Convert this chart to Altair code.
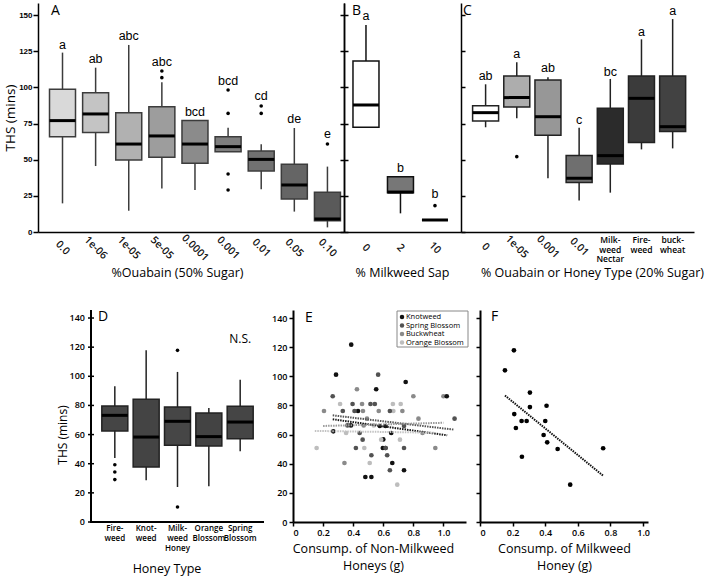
import altair as alt
import pandas as pd

# ---------------- Panel A: THS vs % ouabain (50% sugar) ----------------
a_cats = ["0.0", "1e-06", "1e-05", "5e-05", "0.0001", "0.001", "0.01", "0.05", "0.10"]
a_low = [19.8, 45.6, 14.7, 30.0, 29.0, 55.5, 29.5, 14.1, 3.2]
a_q1 = [65.9, 68.7, 49.8, 51.6, 47.5, 55.5, 42.2, 22.8, 7.8]
a_med = [77.0, 81.6, 60.8, 66.4, 60.8, 59.0, 50.2, 32.5, 9.0]
a_q3 = [98.6, 96.3, 82.5, 86.6, 77.0, 65.9, 56.0, 46.8, 27.4]
a_high = [124.0, 113.6, 129.3, 103.5, 77.0, 72.1, 60.6, 71.9, 45.2]
a_sig = ["a", "ab", "abc", "abc", "bcd", "bcd", "cd", "de", "e"]
a_sig_y = [129.3, 119.6, 135.5, 117.7, 83.2, 104.6, 94.0, 77.9, 67.7]
a_out_cat = ["5e-05", "5e-05", "0.001", "0.001", "0.001", "0.001", "0.01", "0.01", "0.10"]
a_out_val = [111.3, 106.7, 98.2, 82.0, 40.1, 29.0, 87.1, 82.0, 60.8]

# ---------------- Panel B: THS vs % milkweed sap ----------------
b_cats = ["0", "2", "10"]
b_low = [72.4, 12.9, 8.3]
b_q1 = [72.4, 27.2, 8.3]
b_med = [87.8, 27.6, 8.3]
b_q3 = [118.2, 38.2, 8.3]
b_high = [143.1, 38.2, 8.3]
b_sig = ["a", "b", "b"]
b_sig_y = [149.3, 44.0, 26.0]
b_out_cat = ["10"]
b_out_val = [18.2]

# ---------------- Panel C: THS vs % ouabain or honey type (20% sugar) ----------------
c_cats = ["0", "1e-05", "0.001", "0.01", "Milkweed Nectar", "Fireweed", "buckwheat"]
c_tick_text = ["0", "1e-05", "0.001", "0.01", "Milk-\nweed\nNectar", "Fire-\nweed", "buck-\nwheat"]
c_low = [72.4, 78.6, 37.1, 21.7, 27.2, 57.1, 57.8]
c_q1 = [76.7, 86.4, 66.8, 34.3, 47.0, 61.8, 69.4]
c_med = [82.5, 92.9, 79.7, 37.1, 52.8, 92.4, 72.8]
c_q3 = [87.3, 107.8, 105.1, 52.8, 85.5, 107.8, 107.8]
c_high = [102.1, 117.3, 106.9, 72.1, 105.8, 133.2, 147.2]
c_sig = ["ab", "a", "ab", "c", "bc", "a", "a"]
c_sig_y = [107.8, 123.0, 113.1, 77.4, 110.8, 138.5, 153.0]
c_out_cat = ["1e-05"]
c_out_val = [52.1]

# ---------------- Panel D: THS by honey type ----------------
d_cats = ["Fireweed", "Knotweed", "Milkweed Honey", "Orange Blossom", "Spring Blossom"]
d_tick_text = ["Fire-\nweed", "Knot-\nweed", "Milk-\nweed\nHoney", "Orange\nBlossom", "Spring\nBlossom"]
d_low = [43.9, 28.6, 24.0, 24.5, 48.5]
d_q1 = [62.5, 37.7, 52.6, 52.2, 57.2]
d_med = [73.2, 58.3, 69.1, 58.6, 68.6]
d_q3 = [79.6, 84.2, 78.9, 74.8, 79.4]
d_high = [93.1, 117.8, 103.0, 78.2, 97.7]
d_out_cat = ["Fireweed", "Fireweed", "Fireweed", "Milkweed Honey", "Milkweed Honey"]
d_out_val = [39.3, 34.3, 29.1, 117.8, 10.3]
d_note = ["N.S."]
d_note_cat = ["Spring Blossom"]
d_note_y = [125.5]

# ---------------- Panel E: THS vs consumption of non-milkweed honeys ----------------
e_groups = ["Knotweed", "Spring Blossom", "Buckwheat", "Orange Blossom"]
e_knot_x = [0.387, 0.286, 0.749, 0.553, 1.022, 0.432, 0.385, 0.577, 0.615, 0.268,
            0.653, 0.600, 0.597, 0.615, 0.660, 0.738, 0.481, 0.521]
e_knot_y = [121.7, 101.1, 96.1, 91.1, 86.3, 76.2, 66.3, 65.9, 65.9, 62.2,
            61.1, 56.7, 50.8, 50.8, 40.5, 35.5, 30.9, 30.9]
e_spring_x = [0.566, 0.264, 0.396, 0.515, 0.544, 0.331, 0.409, 0.644, 1.074, 0.362,
              0.443, 0.463, 0.418, 0.615, 0.738, 0.521, 0.626, 0.644, 0.738]
e_spring_y = [101.1, 86.3, 81.0, 81.0, 81.0, 76.2, 76.2, 76.2, 70.9, 66.3,
              61.1, 56.5, 50.8, 50.8, 50.8, 45.8, 45.8, 35.5, 65.9]
e_buck_x = [0.425, 0.800, 1.000, 0.459, 0.206, 0.465, 0.570, 0.727, 0.834, 0.492,
            0.470, 0.861, 0.946, 0.342]
e_buck_y = [91.1, 86.3, 86.3, 81.0, 76.2, 76.2, 76.2, 76.2, 70.9, 70.9,
            66.3, 61.1, 50.8, 40.5]
e_orange_x = [0.313, 0.664, 0.716, 0.667, 0.537, 0.353, 0.586, 0.711, 0.157, 0.474,
              0.510, 0.693]
e_orange_y = [81.0, 81.0, 81.0, 76.2, 66.3, 61.1, 56.5, 56.5, 50.8, 50.8,
              40.5, 25.6]
# fitted trend lines (start / end) per honey
e_fit_group = ["Knotweed", "Knotweed", "Spring Blossom", "Spring Blossom",
               "Buckwheat", "Buckwheat", "Orange Blossom", "Orange Blossom"]
e_fit_x = [0.264, 1.025, 0.264, 1.070, 0.200, 1.000, 0.145, 0.940]
e_fit_y = [70.5, 59.5, 73.2, 63.4, 65.9, 68.1, 62.5, 61.3]

# ---------------- Panel F: THS vs consumption of milkweed honey ----------------
f_x = [0.208, 0.153, 0.306, 0.306, 0.408, 0.210, 0.255, 0.286, 0.400, 0.220,
       0.390, 0.412, 0.476, 0.755, 0.257, 0.553]
f_y = [117.8, 104.1, 88.8, 78.9, 79.8, 74.1, 69.3, 69.3, 69.3, 64.5,
       59.7, 54.7, 50.1, 50.6, 44.8, 25.6]

# ---------------- styling ----------------
FONT = "Open Sans"
ARIAL = "Liberation Sans"
a_fills = ["#d9d9d9", "#c4c4c4", "#b1b1b1", "#9d9d9d", "#8b8b8b", "#7e7e7e", "#717171", "#656565", "#5a5a5a"]
b_fills = ["#ffffff", "#777777", "#000000"]
c_fills = ["#ffffff", "#adadad", "#979797", "#6f6f6f", "#2b2b2b", "#3b3b3b", "#424242"]
d_fills = ["#454545", "#444444", "#464646", "#434343", "#454545"]
e_colors = ["#111111", "#525252", "#8a8a8a", "#bdbdbd"]
e_line_colors = ["#1a1a1a", "#555555", "#9a9a9a", "#c2c2c2"]
legend_row_y = [7, 15.5, 24, 32.5]   # key rows inside panel E (px from top)

TOP_H = 229
TOP_Y = alt.Scale(domain=[0, 158.3], nice=False, zero=True)
TOP_TICKS = [0, 25, 50, 75, 100, 125, 150]
BOT_H = 212
D_W = 173
BOT_Y = alt.Scale(domain=[0, 145.5], nice=False, zero=True)
BOT_TICKS = list(range(0, 141, 20))


def box_layers(cats, low, q1, med, q3, high, out_cat, out_val, fills, stroke,
               X, yscale, left_axis, right_axis=None):
    stats = pd.DataFrame({"cat": cats, "low": low, "q1": q1, "med": med, "q3": q3, "high": high})
    outl = pd.DataFrame({"cat": out_cat, "val": out_val})
    whisk = alt.Chart(stats).mark_rule(color=stroke, strokeWidth=1.5).encode(
        x=X, y=alt.Y("low:Q", scale=yscale, axis=left_axis), y2="high:Q")
    box = alt.Chart(stats).mark_bar(size=26, stroke=stroke, strokeWidth=1.5).encode(
        x=X, y=alt.Y("q1:Q", scale=yscale, axis=None), y2="q3:Q",
        fill=alt.Fill("cat:N", scale=alt.Scale(domain=cats, range=fills), legend=None))
    mid = alt.Chart(stats).mark_tick(size=26, thickness=3, color="black", orient="horizontal", opacity=1).encode(
        x=X, y=alt.Y("med:Q", scale=yscale, axis=right_axis))
    pts = alt.Chart(outl).mark_circle(size=13, color="black", opacity=1).encode(
        x=X, y=alt.Y("val:Q", scale=yscale, axis=None))
    return [whisk, box, mid, pts]


def sig_layer(cats, sig, sig_y, X, yscale):
    df = pd.DataFrame({"cat": cats, "sig": sig, "sig_y": sig_y})
    return alt.Chart(df).mark_text(font=ARIAL, fontSize=12.5, baseline="middle", color="black").encode(
        x=X, y=alt.Y("sig_y:Q", scale=yscale, axis=None), text="sig:N")


def rotated_ticks(cats, X, y_px):
    df = pd.DataFrame({"cat": cats, "label": cats})
    return alt.Chart(df).mark_text(font=FONT, fontSize=10.5, fontWeight=600, angle=45, align="center",
                                   baseline="middle", color="#111111").encode(
        x=X, y=alt.value(y_px), text="label:N")


def flat_ticks(cats, labels, X, y_px, size, line_h):
    df = pd.DataFrame({"cat": cats, "label": labels})
    return alt.Chart(df).mark_text(font=FONT, fontSize=size, align="center", baseline="top",
                                   lineBreak="\n", lineHeight=line_h, color="black", fontWeight=600).encode(
        x=X, y=alt.value(y_px), text="label:N")


def panel_letter(letter, x_px, y_px):
    df = pd.DataFrame({"t": [letter]})
    return alt.Chart(df).mark_text(font=FONT, fontSize=14, align="left", baseline="top", color="black").encode(
        x=alt.value(x_px), y=alt.value(y_px), text="t:N")


def top_x(cats, pad_outer, align, title, title_x):
    return alt.X("cat:N",
                 scale=alt.Scale(domain=cats, paddingInner=0, paddingOuter=pad_outer, align=align),
                 axis=alt.Axis(labels=False, ticks=False, domain=True, domainWidth=1.5, title=title,
                               titlePadding=34, titleX=title_x, titleFont=FONT, titleLimit=400,
                               titleFontSize=12.5, titleFontWeight="normal"))


top_left_axis = alt.Axis(values=TOP_TICKS, labelFont=ARIAL, labelFontSize=8, labelFontWeight="bold",
                         labelPadding=1, tickSize=5, tickWidth=1.5, domainWidth=1.5,
                         title="THS (mins)", titleFont=FONT, titleFontSize=13.5,
                         titleFontWeight="normal", titlePadding=1)
inner_left_axis = alt.Axis(values=TOP_TICKS, labels=False, tickSize=4, tickWidth=1.5,
                           domainWidth=1.5, title=None)
inner_right_axis = alt.Axis(orient="right", values=TOP_TICKS, labels=False, tickSize=4,
                            tickWidth=1.5, domainWidth=1.5, title=None)

# ---- A ----
XA = top_x(a_cats, 0.12, 1.0, "%Ouabain (50% Sugar)", 139)
panel_a = alt.layer(
    *box_layers(a_cats, a_low, a_q1, a_med, a_q3, a_high, a_out_cat, a_out_val,
                a_fills, "#3c3c3c", XA, TOP_Y, top_left_axis, inner_right_axis),
    sig_layer(a_cats, a_sig, a_sig_y, XA, TOP_Y),
    rotated_ticks(a_cats, XA, TOP_H + 16),
    panel_letter("A", 13, 1),
).resolve_axis(y="independent").properties(width=306, height=TOP_H)

# ---- B ----
XB = top_x(b_cats, 0.196, 0.35, "% Milkweed Sap", 58)
panel_b = alt.layer(
    *box_layers(b_cats, b_low, b_q1, b_med, b_q3, b_high, b_out_cat, b_out_val,
                b_fills, "#111111", XB, TOP_Y, inner_left_axis, inner_right_axis),
    sig_layer(b_cats, b_sig, b_sig_y, XB, TOP_Y),
    rotated_ticks(b_cats, XB, TOP_H + 16),
    panel_letter("B", 8, 1),
).resolve_axis(y="independent").properties(width=117, height=TOP_H)

# ---- C ----
XC = top_x(c_cats, 0.237, 0.61, "% Ouabain or Honey Type (20% Sugar)", 131)
panel_c = alt.layer(
    *box_layers(c_cats, c_low, c_q1, c_med, c_q3, c_high, c_out_cat, c_out_val,
                c_fills, "#222222", XC, TOP_Y, inner_left_axis),
    sig_layer(c_cats, c_sig, c_sig_y, XC, TOP_Y),
    rotated_ticks(c_cats[:4], XC, TOP_H + 15),
    flat_ticks(c_cats[4:], c_tick_text[4:], XC, TOP_H + 4, 8.5, 9.5),
    panel_letter("C", 2, 1),
).properties(width=233, height=TOP_H)

top_row = alt.hconcat(panel_a, panel_b, panel_c, spacing=0, bounds="flush").resolve_scale(
    fill="independent", color="independent")

# ---- bottom row axes ----
bot_label_kw = dict(labelFont=FONT, labelFontSize=9, labelFontWeight=600, labelPadding=2,
                    tickSize=4, tickWidth=1.5, domainWidth=2)
e_yaxis = alt.Axis(values=BOT_TICKS, title=None, **bot_label_kw)
f_yaxis = alt.Axis(values=BOT_TICKS, title=None, labels=False, tickSize=4, tickWidth=1.5, domainWidth=2)
gram_ticks = [0, 0.2, 0.4, 0.6, 0.8, 1.0]
gram_expr = "datum.value == 0 ? '0' : format(datum.value, '.1f')"

# ---- D: box plots with hand-built frame (axis lines, ticks, labels, titles) ----
XD = alt.X("cat:N", scale=alt.Scale(domain=d_cats, paddingInner=0, paddingOuter=0.26, align=0.5),
           axis=None)
note_df = pd.DataFrame({"cat": d_note_cat, "note": d_note, "note_y": d_note_y})
d_note_layer = alt.Chart(note_df).mark_text(font=FONT, fontSize=12, baseline="middle", color="black").encode(
    x=XD, y=alt.Y("note_y:Q", scale=BOT_Y, axis=None), text="note:N")

one = pd.DataFrame({"v": [0]})
tick_df = pd.DataFrame({"v": BOT_TICKS})
d_frame = [
    alt.Chart(one).mark_rule(color="black", strokeWidth=2).encode(
        x=alt.value(0), y=alt.value(0), y2=alt.value(BOT_H + 1)),
    alt.Chart(one).mark_rule(color="black", strokeWidth=2).encode(
        x=alt.value(-1), x2=alt.value(D_W), y=alt.value(BOT_H)),
    alt.Chart(tick_df).mark_rule(color="black", strokeWidth=1.5).encode(
        x=alt.value(-3), x2=alt.value(3), y=alt.Y("v:Q", scale=BOT_Y, axis=None)),
    alt.Chart(tick_df).mark_text(font=FONT, fontSize=9, fontWeight=600, align="right",
                                 baseline="middle", color="black").encode(
        x=alt.value(-6), y=alt.Y("v:Q", scale=BOT_Y, axis=None), text=alt.Text("v:Q", format="d")),
    alt.Chart(pd.DataFrame({"t": ["THS (mins)"]})).mark_text(
        font=FONT, fontSize=12, angle=270, align="center", baseline="middle", color="black").encode(
        x=alt.value(-28), y=alt.value(125), text="t:N"),
    alt.Chart(pd.DataFrame({"t": ["Honey Type"]})).mark_text(
        font=FONT, fontSize=12.5, align="center", baseline="middle", color="black").encode(
        x=alt.value(76), y=alt.value(BOT_H + 47), text="t:N"),
]
panel_d = alt.layer(
    *d_frame,
    *box_layers(d_cats, d_low, d_q1, d_med, d_q3, d_high, d_out_cat, d_out_val,
                d_fills, "#222222", XD, BOT_Y, None),
    flat_ticks(d_cats, d_tick_text, XD, BOT_H + 3, 8, 10),
    d_note_layer,
    panel_letter("D", 7, 0),
).properties(width=D_W, height=BOT_H)

# ---- E ----
e_pts = pd.DataFrame({
    "honey": (["Knotweed"] * len(e_knot_x) + ["Spring Blossom"] * len(e_spring_x)
              + ["Buckwheat"] * len(e_buck_x) + ["Orange Blossom"] * len(e_orange_x)),
    "grams": e_knot_x + e_spring_x + e_buck_x + e_orange_x,
    "ths": e_knot_y + e_spring_y + e_buck_y + e_orange_y,
})
e_fit = pd.DataFrame({"honey": e_fit_group, "grams": e_fit_x, "ths": e_fit_y})
XE = alt.X("grams:Q", scale=alt.Scale(domain=[0, 1.15], nice=False, zero=True),
           axis=alt.Axis(values=gram_ticks, labelExpr=gram_expr,
                         title=["Consump. of Non-Milkweed", "Honeys (g)"], titleFont=FONT,
                         titleFontSize=12.5, titleFontWeight="normal", titleLineHeight=17,
                         titlePadding=5, titleX=80, **bot_label_kw))
YE = alt.Y("ths:Q", scale=BOT_Y, axis=e_yaxis)
e_points = alt.Chart(e_pts).mark_circle(size=22, opacity=1).encode(
    x=XE, y=YE,
    color=alt.Color("honey:N", scale=alt.Scale(domain=e_groups, range=e_colors), legend=None),
    order=alt.Order("honey:N"))
e_lines = alt.Chart(e_fit).mark_line(strokeDash=[1.5, 1], strokeWidth=2).encode(
    x=XE, y=YE, detail="honey:N",
    stroke=alt.Stroke("honey:N", scale=alt.Scale(domain=e_groups, range=e_line_colors), legend=None))

# key box drawn as marks in the top-right corner of panel E
key_layers = [
    alt.Chart(one).mark_rect(fill="white", stroke="#888888", strokeWidth=1).encode(
        x=alt.value(104), x2=alt.value(175), y=alt.value(1), y2=alt.value(37))
]
for name, col, ry in zip(e_groups, e_colors, legend_row_y):
    row = pd.DataFrame({"honey": [name]})
    key_layers.append(alt.Chart(row).mark_circle(size=20, color=col, opacity=1).encode(
        x=alt.value(109), y=alt.value(ry)))
    key_layers.append(alt.Chart(row).mark_text(font=FONT, fontSize=7.5, align="left", baseline="middle",
                                               color="black").encode(
        x=alt.value(113), y=alt.value(ry), text="honey:N"))

panel_e = alt.layer(e_points, e_lines, *key_layers, panel_letter("E", 12, 1)).properties(
    width=173, height=BOT_H)

# ---- F ----
f_df = pd.DataFrame({"grams": f_x, "ths": f_y})
XF = alt.X("grams:Q", scale=alt.Scale(domain=[0, 1.03], nice=False, zero=True),
           axis=alt.Axis(values=gram_ticks, labelExpr=gram_expr,
                         title=["Consump. of Milkweed", "Honey (g)"], titleFont=FONT,
                         titleFontSize=12.5, titleFontWeight="normal", titleLineHeight=17,
                         titlePadding=5, **bot_label_kw))
YF = alt.Y("ths:Q", scale=BOT_Y, axis=f_yaxis)
f_points = alt.Chart(f_df).mark_circle(size=22, color="black", opacity=1).encode(x=XF, y=YF)
f_line = alt.Chart(f_df).transform_regression("grams", "ths").mark_line(
    strokeDash=[1.5, 1], strokeWidth=2, color="#111111").encode(x=XF, y=YF)
panel_f = alt.layer(f_points, f_line, panel_letter("F", 11, 0)).properties(width=168, height=BOT_H)


def gap(w):
    # empty view used only to hold horizontal room between panels
    return alt.Chart(one).mark_point(opacity=0).encode(
        x=alt.value(0), y=alt.value(0)).properties(width=w, height=10)


bottom_row = alt.hconcat(
    gap(19), panel_d, gap(1), panel_e, gap(3), panel_f, spacing=0,
).resolve_scale(fill="independent", color="independent", stroke="independent")

chart = alt.vconcat(top_row, bottom_row, spacing=28).resolve_scale(
    fill="independent", color="independent", stroke="independent"
).properties(
    padding={"left": 3, "top": 3, "right": 2, "bottom": 2}
).configure_view(stroke=None).configure_axis(
    grid=False, domainColor="black", tickColor="black", labelColor="black", titleColor="black"
)

chart.save("out.html", embed_options={"renderer": "svg", "actions": False})
